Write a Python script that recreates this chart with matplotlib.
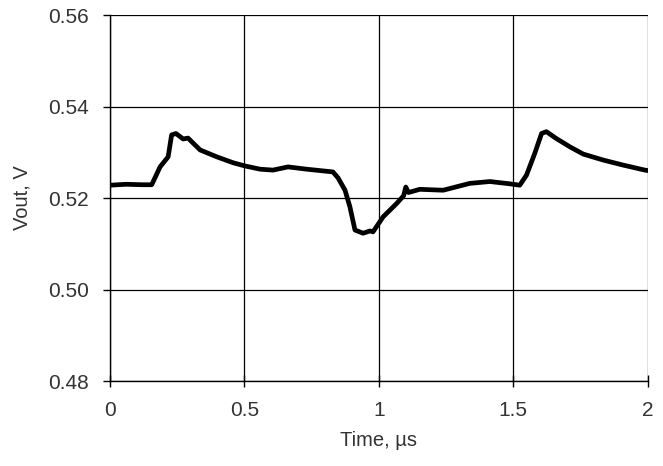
import numpy as np
import matplotlib.pyplot as plt

# Valores (tempo em µs, tensão em V)
tempo = [0.0, 0.06, 0.12, 0.155, 0.186, 0.216, 0.229, 0.245, 0.272, 0.29, 0.335,
         0.397, 0.458, 0.502, 0.558, 0.606, 0.662, 0.731, 0.829, 0.848, 0.874,
         0.892, 0.911, 0.941, 0.967, 0.978, 1.016, 1.066, 1.092, 1.10, 1.11,
         1.152, 1.239, 1.338, 1.413, 1.487, 1.524, 1.549, 1.580, 1.605, 1.623,
         1.660, 1.710, 1.760, 1.834, 1.908, 1.989, 2.0]
vout = [0.5228, 0.5230, 0.5229, 0.5229, 0.5268, 0.5290, 0.5338, 0.5341, 0.5329,
        0.5331, 0.5305, 0.5290, 0.5277, 0.5270, 0.5263, 0.5261, 0.5268, 0.5263,
        0.5257, 0.5244, 0.5217, 0.5181, 0.5130, 0.5123, 0.5128, 0.5126, 0.5159,
        0.5188, 0.5205, 0.5224, 0.5212, 0.5219, 0.5217, 0.5232, 0.5236, 0.5231,
        0.5228, 0.5250, 0.5298, 0.5341, 0.5345, 0.5330, 0.5312, 0.5296, 0.5283,
        0.5272, 0.5261, 0.5260]

x_ticks = [0, 0.5, 1, 1.5, 2]
x_labels = ["0", "0.5", "1", "1.5", "2"]
y_ticks = [0.48, 0.50, 0.52, 0.54, 0.56]
y_labels = ["0.48", "0.50", "0.52", "0.54", "0.56"]

plt.rcParams['font.family'] = ['Liberation Sans', 'DejaVu Sans']

fig = plt.figure(figsize=(6.63, 4.66), dpi=100)
ax = fig.add_axes([0.166, 0.1824, 0.811, 0.7854])

ax.plot(tempo, vout, color='black', linewidth=3.4, solid_joinstyle='round')

ax.set_xlim(0, 2)
ax.set_ylim(0.48, 0.56)
ax.set_xticks(x_ticks)
ax.set_xticklabels(x_labels)
ax.set_yticks(y_ticks)
ax.set_yticklabels(y_labels)
ax.grid(True, color='black', linewidth=0.9)
ax.set_axisbelow(True)

for lado in ['top', 'right']:
    ax.spines[lado].set_visible(False)
for lado in ['left', 'bottom']:
    ax.spines[lado].set_linewidth(1.0)

ax.tick_params(axis='x', direction='inout', length=9, width=1.0, pad=10,
               labelsize=15, labelcolor='#333333')
ax.tick_params(axis='y', direction='out', length=5, width=1.0, pad=10,
               labelsize=15, labelcolor='#333333')

ax.set_xlabel("Time, µs", fontsize=14.5, color='#333333', labelpad=8)
ax.set_ylabel("Vout, V", fontsize=14.5, color='#333333', labelpad=12)

fig.savefig("out.png", dpi=100)
